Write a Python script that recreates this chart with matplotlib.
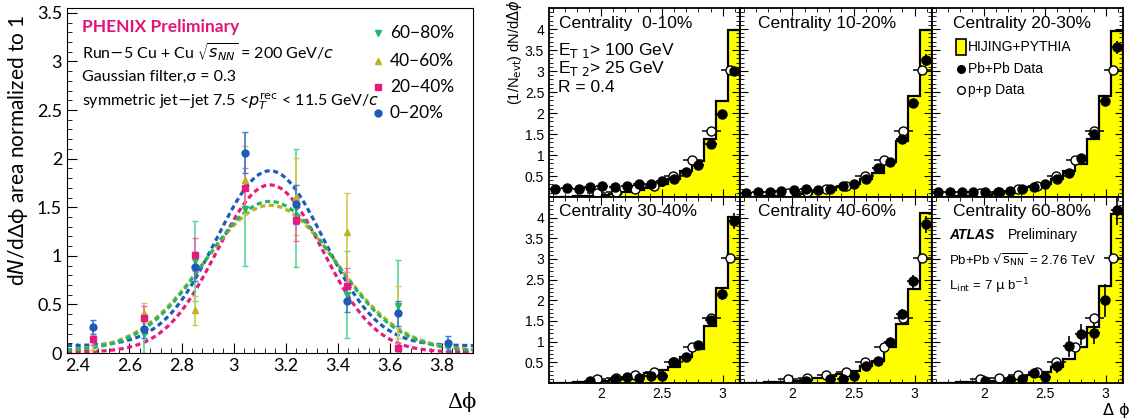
import numpy as np
import matplotlib.pyplot as plt
from matplotlib.ticker import MultipleLocator, FormatStrFormatter
from matplotlib.lines import Line2D
from matplotlib.patches import Rectangle

W, H = 1130, 418

# ---------------- left chart (PHENIX) ----------------
dphi = [2.46, 2.655, 2.85, 3.045, 3.24, 3.435, 3.63, 3.825]

labels_left = ["60\u221280%", "40\u221260%", "20\u221240%", "0\u221220%"]
y_6080 = [np.nan, 0.20, 0.95, 1.48, 1.49, 0.60, 0.48, np.nan]
e_6080 = [np.nan, 0.20, 0.41, 0.58, 0.61, 0.45, 0.48, np.nan]
y_4060 = [0.15, 0.41, 0.44, 1.78, 1.61, 1.24, 0.42, np.nan]
e_4060 = [0.12, 0.10, 0.15, 0.35, 0.40, 0.41, 0.27, np.nan]
y_2040 = [0.14, 0.36, 1.01, 1.70, 1.37, 0.69, 0.05, np.nan]
e_2040 = [0.06, 0.12, 0.17, 0.20, 0.22, 0.18, 0.05, np.nan]
y_0020 = [0.27, 0.25, 0.89, 2.06, 1.53, 0.54, 0.41, 0.10]
e_0020 = [0.07, 0.10, 0.15, 0.21, 0.20, 0.12, 0.13, 0.08]

# gaussian fit parameters: amplitude, mean, sigma, offset
fit_6080 = [1.54, 3.14, 0.248, 0.02]
fit_4060 = [1.50, 3.14, 0.255, 0.02]
fit_2040 = [1.72, 3.14, 0.203, 0.01]
fit_0020 = [1.80, 3.14, 0.207, 0.075]

# ---------------- right chart (ATLAS) ----------------
edges = [1.571, 1.669, 1.767, 1.865, 1.963, 2.062, 2.160, 2.258, 2.356,
         2.454, 2.553, 2.651, 2.749, 2.847, 2.945, 3.043, 3.142]
pbpb_x = [1.62, 1.72, 1.82, 1.91, 2.01, 2.11, 2.21, 2.31,
          2.41, 2.50, 2.60, 2.70, 2.80, 2.90, 2.99, 3.09]
pp_x = [1.964, 2.121, 2.278, 2.435, 2.592, 2.749, 2.906, 3.063]
pp_y = [0.10, 0.11, 0.19, 0.26, 0.51, 0.88, 1.58, 3.03]
pp_err = [0.01, 0.01, 0.02, 0.02, 0.03, 0.04, 0.06, 0.08]

centralities = ["Centrality  0-10%", "Centrality 10-20%", "Centrality 20-30%",
                "Centrality 30-40%", "Centrality 40-60%", "Centrality 60-80%"]

hijing = [
    [0.01, 0.01, 0.02, 0.03, 0.05, 0.08, 0.12, 0.16, 0.22, 0.30, 0.42, 0.62, 0.86, 1.39, 2.28, 3.97],
    [0.01, 0.01, 0.02, 0.03, 0.05, 0.08, 0.12, 0.17, 0.23, 0.30, 0.42, 0.58, 0.84, 1.33, 2.41, 3.98],
    [0.01, 0.01, 0.02, 0.03, 0.05, 0.08, 0.12, 0.17, 0.23, 0.31, 0.42, 0.62, 0.78, 1.39, 2.41, 3.96],
    [0.01, 0.01, 0.02, 0.03, 0.05, 0.07, 0.10, 0.17, 0.23, 0.31, 0.39, 0.63, 0.83, 1.39, 2.29, 4.01],
    [0.01, 0.01, 0.02, 0.03, 0.05, 0.07, 0.11, 0.16, 0.22, 0.30, 0.42, 0.54, 0.86, 1.42, 2.28, 4.12],
    [0.01, 0.01, 0.02, 0.03, 0.04, 0.06, 0.09, 0.14, 0.20, 0.26, 0.38, 0.58, 0.86, 1.36, 2.34, 4.08],
]
nan = np.nan
pbpb = [
    [0.18, 0.22, 0.18, 0.25, 0.26, 0.24, 0.26, 0.30, 0.32, 0.38, 0.42, 0.60, 0.76, 1.27, 1.98, 2.99],
    [0.10, 0.11, 0.13, 0.15, 0.17, 0.20, 0.17, 0.20, 0.26, 0.30, 0.44, 0.68, 0.84, 1.38, 2.24, 3.26],
    [0.11, 0.11, 0.11, 0.12, 0.12, 0.13, 0.15, 0.18, 0.25, 0.30, 0.44, 0.58, 0.93, 1.49, 2.28, 3.56],
    [nan, nan, nan, 0.04, nan, 0.09, 0.15, 0.13, 0.17, 0.18, 0.50, 0.62, 0.92, 1.52, 2.16, 3.92],
    [nan, nan, nan, nan, nan, 0.06, nan, 0.09, 0.10, 0.16, 0.42, 0.54, 0.98, 1.68, 2.46, 3.84],
    [nan, nan, nan, nan, 0.06, nan, 0.08, 0.10, 0.24, 0.14, 0.40, 0.89, 1.18, 1.20, 2.00, 4.18],
]
pbpb_err = [
    [0.02, 0.02, 0.02, 0.02, 0.02, 0.02, 0.02, 0.02, 0.02, 0.03, 0.03, 0.03, 0.04, 0.05, 0.07, 0.10],
    [0.02, 0.02, 0.02, 0.02, 0.02, 0.02, 0.02, 0.02, 0.03, 0.03, 0.03, 0.04, 0.05, 0.06, 0.10, 0.15],
    [0.02, 0.02, 0.02, 0.02, 0.02, 0.02, 0.02, 0.02, 0.03, 0.03, 0.04, 0.04, 0.05, 0.08, 0.10, 0.16],
    [nan, nan, nan, 0.03, nan, 0.03, 0.03, 0.03, 0.04, 0.05, 0.06, 0.05, 0.08, 0.12, 0.15, 0.20],
    [nan, nan, nan, nan, nan, 0.03, nan, 0.03, 0.04, 0.05, 0.06, 0.05, 0.10, 0.12, 0.15, 0.20],
    [nan, nan, nan, nan, 0.04, nan, 0.05, 0.06, 0.10, 0.08, 0.15, 0.25, 0.25, 0.25, 0.40, 0.35],
]

plt.rcParams['mathtext.fontset'] = 'dejavusans'

fig = plt.figure(figsize=(W / 100, H / 100), dpi=100)


def box(left, top, right, bottom):
    return [left / W, 1 - bottom / H, (right - left) / W, (bottom - top) / H]


def ftext(x, y, s, **kw):
    fig.text(x / W, 1 - y / H, s, **kw)


# ---------- left ----------
LF = ['Lato', 'DejaVu Sans']
ax = fig.add_axes(box(67, 8, 473, 353))
xs = np.linspace(2.36, 3.92, 300)
series = [
    (y_6080, e_6080, fit_6080, '#1fb865', '#55d992', 'v'),
    (y_4060, e_4060, fit_4060, '#c3b020', '#d6c647', '^'),
    (y_2040, e_2040, fit_2040, '#e6197d', '#ec6aa8', 's'),
    (y_0020, e_0020, fit_0020, '#1c5bb8', '#3f7ad0', 'o'),
]
for yv, ev, fp, col, ecol, mk in series[::-1]:
    a, mu, sg, c = fp
    ax.plot(xs, c + a * np.exp(-(xs - mu) ** 2 / (2 * sg ** 2)), color=col,
            lw=2.3, ls=(0, (1.6, 1.1)))
for yv, ev, fp, col, ecol, mk in series:
    ax.errorbar(dphi, yv, yerr=ev, fmt=mk, color=col, ecolor=ecol, ms=5,
                elinewidth=1.2, capsize=2)
ax.set_xlim(2.36, 3.92)
ax.set_ylim(0, 3.55)
ax.xaxis.set_major_locator(MultipleLocator(0.2))
ax.xaxis.set_minor_locator(MultipleLocator(0.04))
ax.yaxis.set_major_locator(MultipleLocator(0.5))
ax.yaxis.set_minor_locator(MultipleLocator(0.1))
ax.xaxis.set_major_formatter(FormatStrFormatter('%g'))
ax.yaxis.set_major_formatter(FormatStrFormatter('%g'))
ax.tick_params(which='both', direction='in', top=False, right=False)
ax.tick_params(which='major', length=7, labelsize=13)
ax.tick_params(which='minor', length=3.5)
for t in ax.get_xticklabels() + ax.get_yticklabels():
    t.set_family(LF)
for s in ax.spines.values():
    s.set_linewidth(0.8)

ftext(82, 27, "PHENIX Preliminary", color='#e0157a', fontsize=12.5,
      fontweight='bold', family=LF, va='center')
ftext(82, 52, r"Run$-$5 Cu + Cu $\sqrt{s_{NN}}$ = 200 GeV/$c$", fontsize=11.5,
      family=LF, va='center')
ftext(82, 77, "Gaussian filter,\u03c3 = 0.3", fontsize=11.5, family=LF, va='center')
ftext(82, 101, r"symmetric jet$-$jet 7.5 <$p_T^{\rm rec}$ < 11.5 GeV/$c$",
      fontsize=11.5, family=LF, va='center')
for i, (yv, ev, fp, col, ecol, mk) in enumerate(series):
    yy = [33, 61, 87, 113][i]
    fig.add_artist(Line2D([378 / W], [1 - yy / H], transform=fig.transFigure,
                          marker=mk, color=col, ms=5, ls='none'))
    ftext(390, yy, labels_left[i], fontsize=12.5, family=LF, va='center')
ftext(18, 150, "d$N$/d\u0394\u03d5 area normalized to 1", fontsize=15,
      family=LF, rotation=90, ha='center', va='center')
ftext(462, 402, "\u0394\u03d5", fontsize=15, family=['DejaVu Serif'],
      ha='center', va='center')

# ---------- right ----------
RF = ['Liberation Sans', 'DejaVu Sans']
cols = [549, 740, 932, 1123]
rows = [8, 197, 383]
label_x = [0.05, 0.095, 0.11, 0.05, 0.095, 0.11]
half_pb = (edges[1] - edges[0]) / 2
half_pp = (pp_x[1] - pp_x[0]) / 2
for k in range(6):
    r, c = divmod(k, 3)
    a2 = fig.add_axes(box(cols[c], rows[r], cols[c + 1], rows[r + 1]))
    a2.stairs(hijing[k], edges, fill=True, color='#ffff00')
    a2.stairs(hijing[k], edges, color='black', lw=1.6)
    a2.errorbar(pp_x, pp_y, xerr=half_pp, yerr=pp_err, fmt='o', mfc='white',
                mec='black', ecolor='black', ms=6.5, elinewidth=1.1, mew=1)
    a2.errorbar(pbpb_x, pbpb[k], xerr=half_pb, yerr=pbpb_err[k], fmt='o',
                color='black', ms=6.5, elinewidth=1.2)
    a2.set_xlim(1.571, 3.142)
    a2.set_ylim(0, 4.5)
    a2.xaxis.set_major_locator(MultipleLocator(0.5))
    a2.xaxis.set_minor_locator(MultipleLocator(0.1))
    a2.yaxis.set_major_locator(MultipleLocator(0.5))
    a2.yaxis.set_minor_locator(MultipleLocator(0.1))
    a2.xaxis.set_major_formatter(FormatStrFormatter('%g'))
    a2.yaxis.set_major_formatter(FormatStrFormatter('%g'))
    a2.tick_params(which='both', direction='in', top=True, right=True,
                   labelsize=10)
    a2.tick_params(which='major', length=6)
    a2.tick_params(which='minor', length=3)
    a2.tick_params(axis='x', pad=3)
    a2.set_yticks([0.5, 1, 1.5, 2, 2.5, 3, 3.5, 4])
    if c > 0:
        a2.tick_params(labelleft=False)
    if r == 0:
        a2.tick_params(labelbottom=False)
    for t in a2.get_xticklabels() + a2.get_yticklabels():
        t.set_family(RF)
    for s in a2.spines.values():
        s.set_linewidth(1.3)
    a2.text(label_x[k], 0.92, centralities[k], transform=a2.transAxes,
            fontsize=12.5, family=RF, va='center')

ftext(558, 50, r"E$_{\mathrm{T\ 1}}$> 100 GeV", fontsize=12.5, family=RF, va='center')
ftext(558, 69, r"E$_{\mathrm{T\ 2}}$> 25 GeV", fontsize=12.5, family=RF, va='center')
ftext(558, 87, "R = 0.4", fontsize=12.5, family=RF, va='center')

fig.add_artist(Rectangle((956 / W, 1 - 55 / H), 10 / W, 16 / H,
                         transform=fig.transFigure, facecolor='#ffff00',
                         edgecolor='black', lw=1.2))
ftext(968, 47, "HIJING+PYTHIA", fontsize=10, family=RF, va='center')
fig.add_artist(Line2D([961 / W], [1 - 69 / H], transform=fig.transFigure,
                      marker='o', color='black', ms=5.5, ls='none'))
ftext(968, 69, "Pb+Pb Data", fontsize=10, family=RF, va='center')
fig.add_artist(Line2D([961 / W], [1 - 90 / H], transform=fig.transFigure,
                      marker='o', mfc='white', mec='black', ms=5.5, ls='none'))
ftext(968, 90, "p+p Data", fontsize=10, family=RF, va='center')

ftext(949, 235, "ATLAS", fontsize=10, family=RF, fontweight='bold',
      style='italic', va='center')
ftext(1008, 235, "Preliminary", fontsize=10, family=RF, va='center')
ftext(949, 260, r"Pb+Pb $\sqrt{\mathrm{s}_{\mathrm{NN}}}$ = 2.76 TeV", fontsize=9.5,
      family=RF, va='center')
ftext(949, 286, r"L$_{\mathrm{int}}$ = 7 $\mathrm{\mu}$ b$^{\mathrm{-1}}$",
      fontsize=9.5, family=RF, va='center')

ftext(514, 52, r"(1/N$_{\mathrm{evt}}$) dN/d$\Delta\phi$", fontsize=10.5,
      family=RF, rotation=90, ha='center', va='center')
ftext(1116, 410, "\u0394 \u03d5", fontsize=11.5, family=['DejaVu Sans'],
      ha='center', va='center')

fig.savefig("out.png", dpi=100)
